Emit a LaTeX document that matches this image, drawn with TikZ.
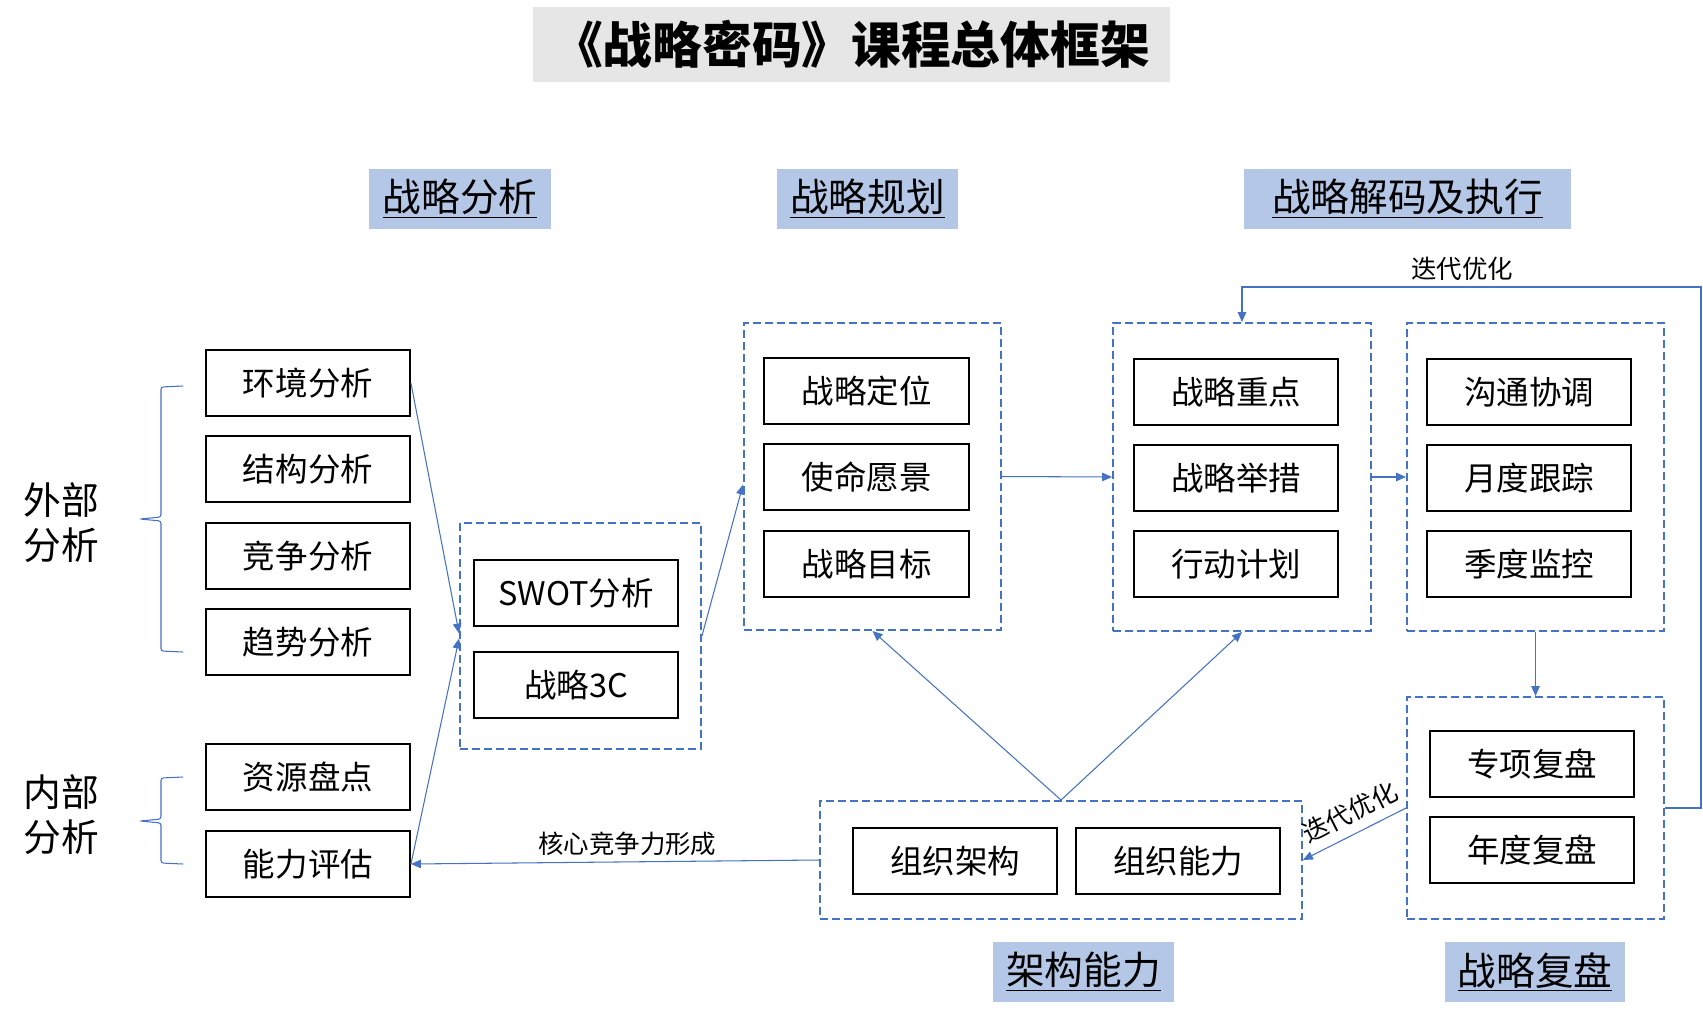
\documentclass[tikz,border=0pt]{standalone}
\usepackage{fontspec}
\setmainfont{Noto Sans CJK SC}
\usetikzlibrary{arrows.meta}
\definecolor{lineblue}{HTML}{4472C4}
\definecolor{headblue}{HTML}{B4C7E7}
\definecolor{titlegray}{HTML}{E7E6E6}
\begin{document}
\begin{tikzpicture}[x=0.02cm,y=-0.02cm,
    item/.style={draw,line width=1.1pt,minimum width=4.08cm,minimum height=1.32cm,inner sep=0pt,font=\fontsize{18.5}{20}\selectfont},
    group/.style={draw=lineblue,line width=1.1pt,dash pattern=on 0.16cm off 0.08cm,inner sep=0pt},
    head/.style={fill=headblue,minimum height=1.2cm,inner sep=0pt,font=\fontsize{22}{24}\selectfont},
    flow/.style={draw=lineblue,line width=0.6pt,-{Triangle[length=0.2cm,width=0.17cm]}},
    brace/.style={draw=lineblue,line width=0.6pt,rounded corners=0.05cm},
    note/.style={font=\fontsize{14.5}{16}\selectfont},
    side/.style={font=\fontsize{21.5}{25.5}\selectfont,align=center}]
  \useasboundingbox (0,0) rectangle (1703,1018);
  % title and stage headers
  \node[fill=titlegray,minimum width=12.74cm,minimum height=1.5cm,font=\fontsize{28.3}{30}\selectfont\bfseries] (title) at (851.5,44.5) {《战略密码》课程总体框架};
  \node[head,minimum width=3.64cm] (hana) at (460,199) {\underline{战略分析}};
  \node[head,minimum width=3.62cm] (hplan) at (867.5,199) {\underline{战略规划}};
  \node[head,minimum width=6.54cm] (hexec) at (1407.5,199) {\underline{战略解码及执行}};
  \node[head,minimum width=3.62cm] (horg) at (1083.5,972) {\underline{架构能力}};
  \node[head,minimum width=3.6cm] (hrev) at (1535,972) {\underline{战略复盘}};
  % analysis
  \node[side] (outer) at (61,523) {外部\\分析};
  \node[side] (inner) at (61,814.5) {内部\\分析};
  \draw[brace] (183,386) -- (161,387) -- (161,517) -- (140,519) -- (161,521) -- (161,651) -- (183,652);
  \draw[brace] (183,777) -- (161,778) -- (161,819) -- (140,821) -- (161,823) -- (161,863) -- (183,864);
  \node[item] (env) at (308,383) {环境分析};
  \node[item] (struc) at (308,469) {结构分析};
  \node[item] (comp) at (308,556) {竞争分析};
  \node[item] (trend) at (308,642) {趋势分析};
  \node[item] (res) at (308,777) {资源盘点};
  \node[item] (cap) at (308,864) {能力评估};
  \node[group,minimum width=4.82cm,minimum height=4.52cm] (tools) at (580.5,636) {};
  \node[item] (swot) at (576,593) {SWOT分析};
  \node[item] (threec) at (576,685) {战略3C};
  % planning
  \node[group,minimum width=5.14cm,minimum height=6.14cm] (plan) at (872.5,476.5) {};
  \node[item,minimum width=4.1cm] (pos) at (866.5,391) {战略定位};
  \node[item,minimum width=4.1cm] (vision) at (866.5,477) {使命愿景};
  \node[item,minimum width=4.1cm] (goal) at (866.5,564) {战略目标};
  % decoding and execution
  \node[group,minimum width=5.16cm,minimum height=6.16cm] (exec) at (1242,477) {};
  \node[item] (focus) at (1236,392) {战略重点};
  \node[item] (act) at (1236,478) {战略举措};
  \node[item] (todo) at (1236,564) {行动计划};
  \node[group,minimum width=5.14cm,minimum height=6.16cm] (mon) at (1535.5,477) {};
  \node[item] (talk) at (1529,392) {沟通协调};
  \node[item] (month) at (1529,478) {月度跟踪};
  \node[item] (quarter) at (1529,564) {季度监控};
  % review
  \node[group,minimum width=5.14cm,minimum height=4.44cm] (rev) at (1535.5,808) {};
  \node[item] (special) at (1532,764) {专项复盘};
  \node[item] (year) at (1532,850) {年度复盘};
  % organisation
  \node[group,minimum width=9.64cm,minimum height=2.36cm] (org) at (1061,860) {};
  \node[item] (orgst) at (955,861) {组织架构};
  \node[item] (orgcap) at (1178,861) {组织能力};
  \coordinate (loop) at (1701,287);
  % connectors
  \draw[flow] (env.east) -- ([yshift=0.05cm]tools.west);
  \draw[flow] (cap.east) -- ([yshift=-0.05cm]tools.west);
  \draw[flow] (tools.east) -- ([yshift=-0.16cm]plan.west);
  \draw[flow] (plan.east) -- (exec.west);
  \draw[flow] (exec.east) -- (mon.west);
  \draw[flow] (mon.south) -- (rev.north);
  \draw[flow] (rev.east) -| (loop) -| node[note,pos=0.26,above] {迭代优化} (exec.north);
  \draw[flow] (rev.west) -- node[note,pos=0.45,sloped,above=2pt] {迭代优化} (org.east);
  \draw[flow] (org.west) -- node[note,pos=0.47,above] {核心竞争力形成} (cap.east);
  \draw[flow] (org.north) -- (plan.south);
  \draw[flow] (org.north) -- (exec.south);
\end{tikzpicture}
\end{document}
